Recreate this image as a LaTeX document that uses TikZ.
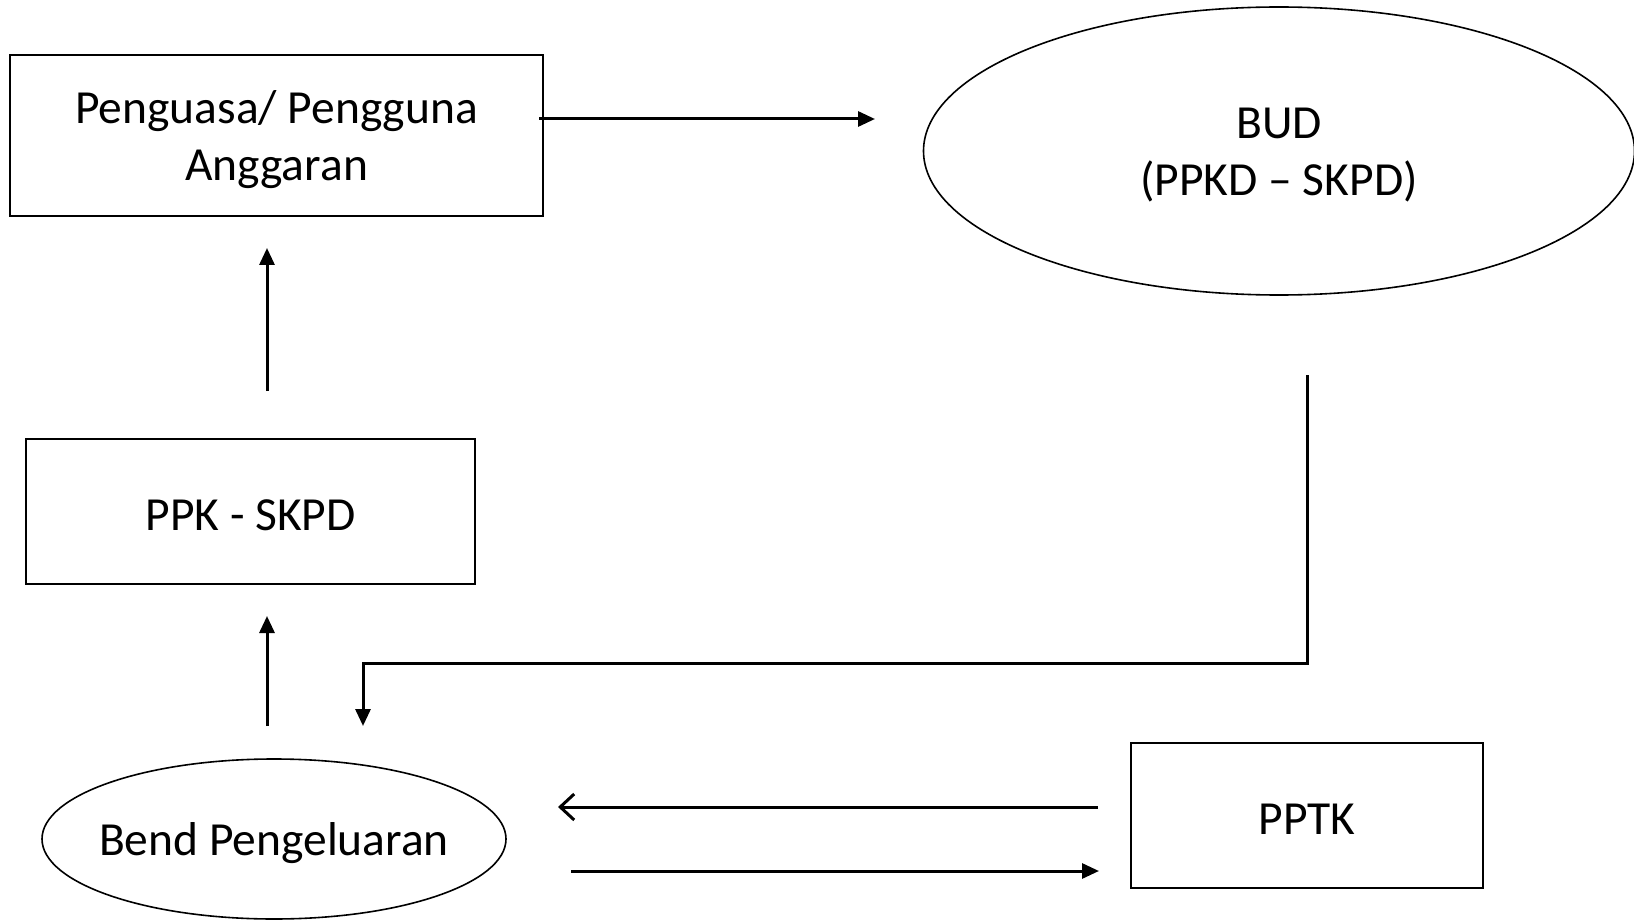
\documentclass[tikz,border=0pt]{standalone}
\usepackage{fontspec}
\setmainfont{Carlito}
\usetikzlibrary{shapes.geometric,arrows.meta}
\begin{document}
\begin{tikzpicture}[x=1pt,y=-1pt,
  boxnode/.style={draw,line width=2pt,rectangle,inner sep=0pt},
  ellnode/.style={draw,line width=1.6pt,ellipse,inner sep=0pt},
  txt/.style={inner sep=0pt,align=center,yshift=-4pt,font=\fontsize{47.5}{57}\selectfont},
  conn/.style={line width=3pt,-{Triangle[length=17pt,width=15pt]}},
  openconn/.style={line width=3pt,-{Straight Barb[length=14pt,width=26pt,line width=3pt]}}]
\useasboundingbox (0,0) rectangle (1634,920);
\clip (0,0) rectangle (1634,920);
\node[boxnode,minimum width=533pt,minimum height=161pt] (pa) at (276.5,135.5) {};
\node[txt] (pat) at (pa.center) {Penguasa/ Pengguna\\Anggaran};
\node[ellnode,minimum width=711pt,minimum height=288pt] (bud) at (1279,151) {};
\node[txt] (budt) at (bud.center) {BUD\\(PPKD -- SKPD)};
\node[boxnode,minimum width=449pt,minimum height=145pt] (ppk) at (250.5,511.5) {};
\node[txt] (ppkt) at (ppk.center) {PPK - SKPD};
\node[ellnode,minimum width=464pt,minimum height=160pt] (bend) at (274,839) {};
\node[txt] (bendt) at (bend.center) {Bend Pengeluaran};
\node[boxnode,minimum width=352pt,minimum height=145pt] (pptk) at (1307,815.5) {};
\node[txt] (pptkt) at (pptk.center) {PPTK};
\coordinate (a1s) at (539,119);
\coordinate (a1e) at (875,119);
\coordinate (a2s) at (267,391);
\coordinate (a2e) at (267,248);
\coordinate (a3s) at (267,726);
\coordinate (a3e) at (267,616);
\coordinate (b1) at (1307,375);
\coordinate (b2) at (1307,663);
\coordinate (b3) at (363,663);
\coordinate (b4) at (363,726);
\coordinate (a5s) at (1098,807);
\coordinate (a5e) at (558,807);
\coordinate (a6s) at (571,871);
\coordinate (a6e) at (1099,871);
\draw[conn] (a1s) -- (a1e);
\draw[conn] (a2s) -- (a2e);
\draw[conn] (a3s) -- (a3e);
\draw[conn] (b1) -- (b2) -- (b3) -- (b4);
\draw[openconn] (a5s) -- (a5e);
\draw[conn] (a6s) -- (a6e);
\end{tikzpicture}
\end{document}
